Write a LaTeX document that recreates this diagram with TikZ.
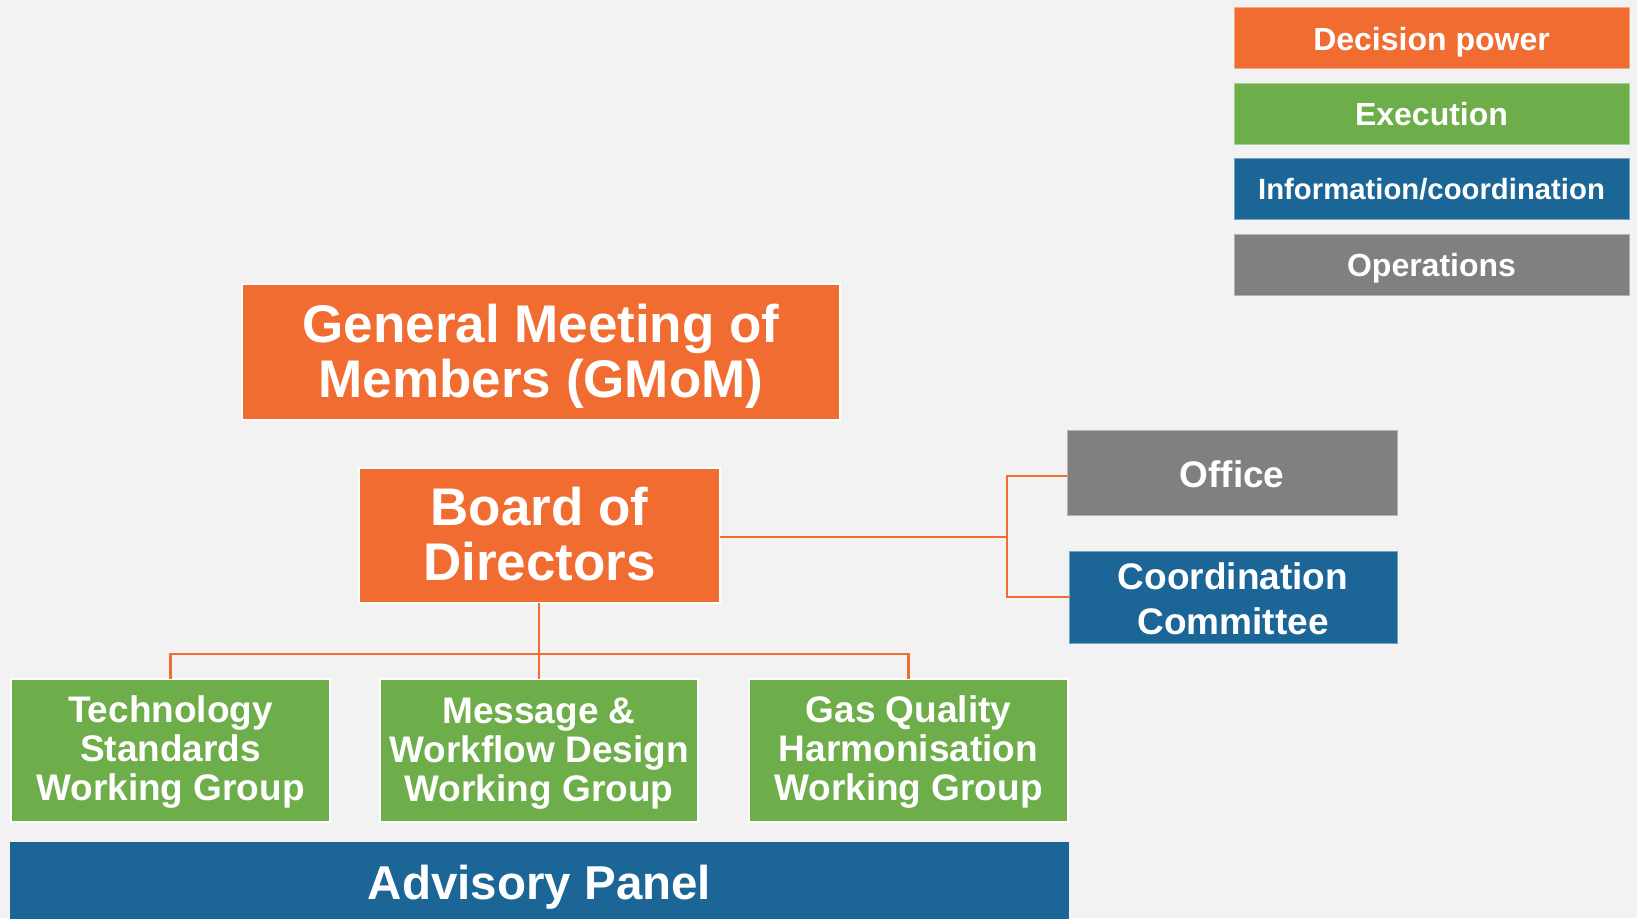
\documentclass[tikz,border=0pt]{standalone}
\usepackage{fontspec}
\setmainfont{Liberation Sans}
\definecolor{bg}{HTML}{F2F2F2}
\definecolor{org}{HTML}{F16C31}
\definecolor{grn}{HTML}{6DAD4A}
\definecolor{blu}{HTML}{1C6697}
\definecolor{gry}{HTML}{808080}
\begin{document}
\begin{tikzpicture}[x=1pt,y=-1pt,
  box/.style={rectangle, inner sep=0pt, outer sep=0pt, text=white, align=center},
  mainbox/.style={box, fill=#1, draw=white, line width=2pt},
  sidebox/.style={box, fill=#1, draw=#1!60!white, line width=1pt},
  legbox/.style={box, fill=#1, draw=#1!60!white, line width=1pt,
    minimum width=395pt, minimum height=61pt, text height=24pt, text depth=0pt,
    font=\bfseries\fontsize{32}{34}\selectfont},
  big/.style={font=\bfseries\fontsize{53}{55}\selectfont},
  mid/.style={font=\bfseries\fontsize{37}{39}\selectfont},
  conn/.style={draw=org, line width=2.5pt}
]
\useasboundingbox[fill=bg] (0,0) rectangle (1637,918);

% legend
\node[legbox=org] (dec) at (1431.5,38) {Decision power};
\node[legbox=grn] (exe) at (1431.5,113.5) {Execution};
\node[legbox=blu, font=\bfseries\fontsize{29.3}{32}\selectfont, text height=21pt] (inf) at (1431.5,189) {Information/coordination};
\node[legbox=gry] (ops) at (1431.5,264.5) {Operations};

% main boxes
\node[mainbox=org, big, text depth=3pt, minimum width=598pt, minimum height=136pt] (gm) at (541,352)
  {General Meeting of\\Members (GMoM)};
\node[mainbox=org, big, text depth=4pt, minimum width=361pt, minimum height=135pt] (bd) at (539.5,535.5)
  {Board of\\Directors};

\node[sidebox=gry, mid, text height=30pt, text depth=0pt, minimum width=330pt, minimum height=85pt] (off) at (1232,472.5) {Office};
\node[sidebox=blu, font=\bfseries\fontsize{37}{45}\selectfont, minimum width=328pt, minimum height=92pt] (cc) at (1233,597)
  {\rule{0pt}{31pt}Coordination\\Committee};

\node[mainbox=grn, mid, text depth=5pt, minimum width=319pt, minimum height=143pt] (tech) at (170.5,750.5)
  {Technology\\Standards\\Working Group};
\node[mainbox=grn, mid, text depth=1pt, minimum width=318pt, minimum height=143pt] (msg) at (539,750.5)
  {Message \&\\Workflow Design\\Working Group};
\node[mainbox=grn, mid, text depth=5pt, minimum width=319pt, minimum height=143pt] (gas) at (908.5,750.5)
  {Gas Quality\\Harmonisation\\Working Group};

\node[box, fill=blu, font=\bfseries\fontsize{47.5}{50}\selectfont, text depth=2pt, minimum width=1059pt, minimum height=82pt] (adv) at (539.5,883)
  {Advisory Panel};

% connectors
\coordinate (j) at (1007,537);
\coordinate (bus) at (539,654);
\draw[conn] (bd.east |- j) -- (j);
\draw[conn] (off.west |- 0,476) -| (j) |- (cc.west);
\draw[conn] (bd.south -| msg.north) -- (msg.north);
\draw[conn] (tech.north) |- (bus) -| (gas.north);
\end{tikzpicture}
\end{document}
